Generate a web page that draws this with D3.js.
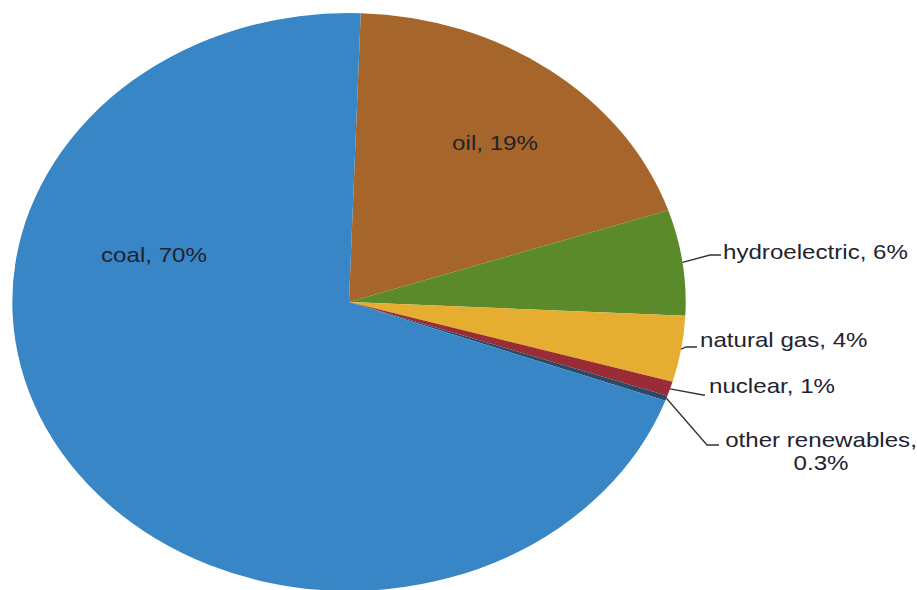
<!DOCTYPE html>
<html>
<head>
<meta charset="utf-8">
<script src="https://cdn.jsdelivr.net/npm/d3@7"></script>
<style>
  body { margin: 0; background: #fff; }
  svg { display: block; }
  text { font-family: "Liberation Sans", Arial, sans-serif; font-size: 20.7px; fill: #23232e; }
</style>
</head>
<body>
<div id="vis"><svg></svg></div>
<script>
// data, clockwise from the top
var categories = ["oil", "hydroelectric", "natural gas", "nuclear", "other renewables", "coal"];
var shares     = [19.3, 5.9, 3.7, 0.8, 0.3, 70.0];
var shareText  = ["19%", "6%", "4%", "1%", "0.3%", "70%"];
var colors     = ["#a5652b", "#5a8a29", "#e6ae30", "#9a2c36", "#2b4a68", "#3886c5"];

var width = 917, height = 590;
var cx = 349, cy = 302, r = 289, sx = 1.165; // the picture is stretched sideways

var svg = d3.select("#vis").select("svg")
    .attr("width", width)
    .attr("height", height);

var pie = d3.pie()
    .sort(null)
    .value(function(d){ return d; })
    .startAngle(2 * Math.PI / 180)
    .endAngle(2 * Math.PI / 180 + 2 * Math.PI);

var arcs = pie(shares);
var arc = d3.arc().innerRadius(0).outerRadius(r);

var g = svg.append("g")
    .attr("transform", "translate(" + cx + "," + cy + ") scale(" + sx + ",1)");

g.selectAll("path")
    .data(arcs)
    .enter().append("path")
    .attr("d", arc)
    .attr("fill", function(d, i){ return colors[i]; });

// point on the rim at the middle of a slice, in page coords
function rim(d) {
    var a = (d.startAngle + d.endAngle) / 2;
    return [cx + sx * r * Math.sin(a), cy - r * Math.cos(a)];
}

// label layout: inside labels have no leader, outside ones have elbow + end
var layout = [
    { x: 495, y: 150, anchor: "middle" },
    { x: 723, y: 259, anchor: "start", elbow: [710, 255], end: [721, 255] },
    { x: 700, y: 347, anchor: "start", elbow: [686, 347], end: [697, 347] },
    { x: 709, y: 393, anchor: "start", elbow: [703, 395], end: [705, 395] },
    { x: 821, y: 447, anchor: "middle", elbow: [707, 445], end: [719, 445], wrap: true },
    { x: 154, y: 262, anchor: "middle" }
];

arcs.forEach(function(d, i){
    var L = layout[i];
    if (L.elbow) {
        var p = rim(d);
        svg.append("path")
            .attr("fill", "none")
            .attr("stroke", "#333")
            .attr("stroke-width", 1.3)
            .attr("d", d3.line()([p, L.elbow, L.end]));
    }
    var t = svg.append("text")
        .attr("transform", "translate(" + L.x + "," + L.y + ") scale(" + sx + ",1)")
        .attr("text-anchor", L.anchor);
    if (L.wrap) {
        t.append("tspan").attr("x", 0).attr("y", 0).text(categories[i] + ",");
        t.append("tspan").attr("x", 0).attr("y", 23).text(shareText[i]);
    } else {
        t.text(categories[i] + ", " + shareText[i]);
    }
});
</script>
</body>
</html>
